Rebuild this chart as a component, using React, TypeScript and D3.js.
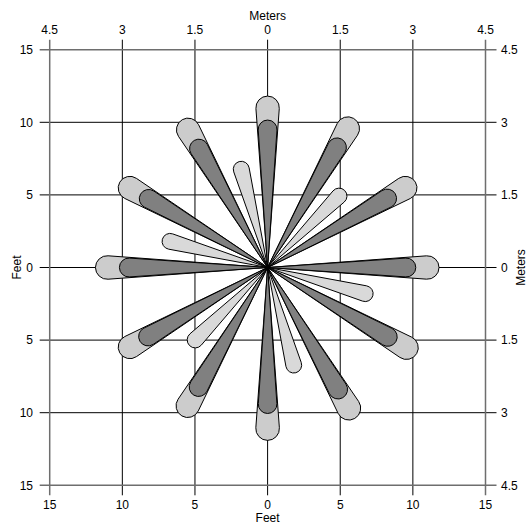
import React from "react";
import * as d3 from "d3";

// Feet tick values (labels shown as absolute values)
const feetTicks = [-15, -10, -5, 0, 5, 10, 15];
// Meter labels aligned with the feet ticks
const meterLabels = ["4.5", "3", "1.5", "0", "1.5", "3", "4.5"];

// Large petals: direction (degrees clockwise from north)
const bigDirections = [0, 30, 60, 90, 120, 150, 180, 210, 240, 270, 300, 330];
// Outer (light) petal reach, feet
const outerFeet = [11.8, 11.85, 11.75, 11.8, 11.85, 12.0, 11.9, 11.8, 11.75, 11.85, 11.75, 11.75];
// Inner (dark) petal reach, feet
const innerFeet = [10.15, 10.2, 10.15, 10.2, 10.2, 10.35, 10.05, 10.15, 10.15, 10.2, 10.1, 10.1];

// Small petals
const smallDirections = [45, 105, 165, 225, 285, 345];
const smallFeet = [7.5, 7.5, 7.5, 7.6, 7.5, 7.55];

const W = 527;
const H = 524;
const left = 49.7;
const right = 485.5;
const top = 49.7;
const bottom = 485.3;

const x = d3.scaleLinear().domain([-15, 15]).range([left, right]);
const y = d3.scaleLinear().domain([-15, 15]).range([bottom, top]);

function petalPath(dirDeg: number, feet: number, halfDeg: number): string {
  const cx = x(0);
  const cy = y(0);
  const L = x(feet) - x(0);
  const a = (halfDeg * Math.PI) / 180;
  const c = L / (1 + Math.sin(a));
  const r = c * Math.sin(a);
  const d = c * Math.cos(a);
  const t = (dirDeg * Math.PI) / 180;
  const p1 = [cx + d * Math.sin(t - a), cy - d * Math.cos(t - a)];
  const p2 = [cx + d * Math.sin(t + a), cy - d * Math.cos(t + a)];
  const path = d3.path();
  path.moveTo(cx, cy);
  path.lineTo(p1[0], p1[1]);
  return path.toString() + `A${r},${r} 0 1 1 ${p2[0]},${p2[1]}Z`;
}

const font = "'Liberation Sans', Arial, sans-serif";

export default function App() {
  const x0 = x(0);
  const y0 = y(0);
  return (
    <svg
      width={W}
      height={H}
      style={{ position: "absolute", left: 0, top: 0, background: "#fff" }}
      fontFamily={font}
      fontSize={12}
    >
      <rect x={0} y={0} width={W} height={H} fill="#fff" />
      {/* interior grid */}
      {feetTicks
        .filter((v) => Math.abs(v) < 15)
        .map((v) => (
          <g key={"g" + v}>
            <line x1={x(v)} x2={x(v)} y1={top - 10} y2={bottom + 10} stroke="#000" strokeWidth={1} />
            <line x1={left - 10} x2={right + 11} y1={y(v)} y2={y(v)} stroke="#000" strokeWidth={1} />
          </g>
        ))}
      {/* border lines with ticks */}
      {[-15, 15].map((v) => (
        <g key={"b" + v}>
          <line x1={x(v)} x2={x(v)} y1={top - 10} y2={bottom + 10} stroke="#6e6e6e" strokeWidth={1.5} />
          <line x1={left - 10} x2={right + 11} y1={y(v)} y2={y(v)} stroke="#6e6e6e" strokeWidth={1.5} />
        </g>
      ))}

      {/* light petals */}
      {bigDirections.map((dir, i) => (
        <path key={"o" + i} d={petalPath(dir, outerFeet[i], 4.2)} fill="#cccccc" stroke="#000" strokeWidth={1} />
      ))}
      {smallDirections.map((dir, i) => (
        <path key={"s" + i} d={petalPath(dir, smallFeet[i], 4.5)} fill="#d9d9d9" stroke="#000" strokeWidth={1} />
      ))}
      {/* dark petals */}
      {bigDirections.map((dir, i) => (
        <path key={"i" + i} d={petalPath(dir, innerFeet[i], 3.9)} fill="#808080" stroke="#000" strokeWidth={1} />
      ))}

      {/* bottom axis labels (feet) */}
      {feetTicks.map((v) => (
        <text key={"bt" + v} x={x(v)} y={509} textAnchor="middle" fill="#000">
          {String(Math.abs(v))}
        </text>
      ))}
      <text x={x0} y={521.5} textAnchor="middle" fill="#000">Feet</text>

      {/* top axis labels (meters) */}
      {feetTicks.map((v, i) => (
        <text key={"tt" + v} x={x(v)} y={34} textAnchor="middle" fill="#000">
          {meterLabels[i]}
        </text>
      ))}
      <text x={x0} y={19.5} textAnchor="middle" fill="#000">Meters</text>

      {/* left axis labels (feet) */}
      {feetTicks.map((v) => (
        <text key={"lt" + v} x={33} y={y(v) + 4.3} textAnchor="end" fill="#000">
          {String(Math.abs(v))}
        </text>
      ))}
      <text transform={`translate(20.5,${y0}) rotate(-90)`} textAnchor="middle" fill="#000">Feet</text>

      {/* right axis labels (meters) */}
      {feetTicks.map((v, i) => (
        <text key={"rt" + v} x={501} y={y(v) + 4.3} textAnchor="start" fill="#000">
          {meterLabels[6 - i]}
        </text>
      ))}
      <text transform={`translate(525,${y0}) rotate(-90)`} textAnchor="middle" fill="#000">Meters</text>
    </svg>
  );
}
